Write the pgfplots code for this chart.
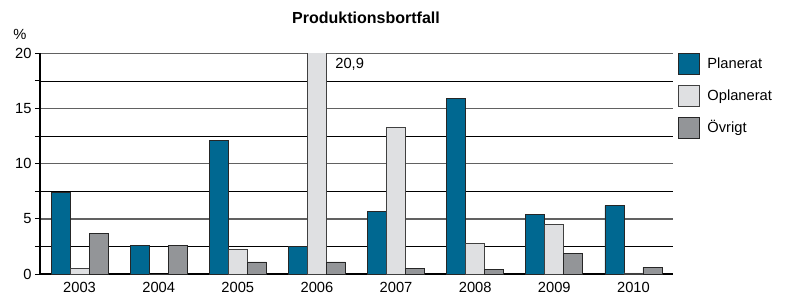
\documentclass[border=0pt]{standalone}
\usepackage{pgfplots}
\pgfplotsset{compat=1.18}
\usepackage{fontspec}
\setmainfont{Liberation Sans}
\definecolor{plan}{RGB}{0,104,145}
\definecolor{oplan}{RGB}{223,224,226}
\definecolor{ovr}{RGB}{147,149,152}
\pgfplotsset{sqleg/.style={legend image code/.code={\draw[##1, line width=0.7bp] (0bp,-10.5bp) rectangle (21bp,10.5bp);}}}
\begin{document}
\begin{tikzpicture}[font=\fontsize{14.7bp}{17bp}\selectfont]
\path[use as bounding box] (0,0) rectangle (790bp,-297bp);
\begin{axis}[
  scale only axis, width=633bp, height=220.7bp,
  at={(40bp,-274bp)}, anchor=south west,
  xmin=-0.5, xmax=7.5, ymin=0, ymax=20,
  ybar=0pt, bar width=19bp,
  axis x line*=bottom, axis y line*=left,
  axis line style={line width=1.6bp, black, -},
  xtick={0,...,7}, xticklabels={2003,2004,2005,2006,2007,2008,2009,2010},
  xtick style={draw=none},
  ytick={0,5,10,15,20}, minor ytick={2.5,7.5,12.5,17.5},
  tick align=outside, major tick length=5bp, minor tick length=5bp,
  ytick style={black, line width=0.8bp},
  minor tick style={black, line width=0.8bp},
  ymajorgrids, yminorgrids,
  major grid style={draw=black!62, line width=1.4bp},
  minor grid style={draw=black, line width=0.75bp},
  /pgf/number format/assume math mode=true,
  tick label style={font=\fontsize{14.7bp}{17bp}\selectfont},
  legend style={at={(1,1)}, anchor=north west, xshift=4.7bp, draw=none, fill=none,
    inner sep=0pt, outer sep=0pt, nodes={inner sep=0pt, anchor=west},
    row sep=10bp, /tikz/every odd column/.style={column sep=8bp},
    font=\fontsize{14.7bp}{17bp}\selectfont},
  legend cell align=left,
]
\addplot[fill=plan, draw=black!85, line width=0.7bp, sqleg] coordinates {(0,7.4) (1,2.6) (2,12.1) (3,2.5) (4,5.7) (5,15.9) (6,5.4) (7,6.2)};
\addplot[fill=oplan, draw=black!75, line width=0.7bp, sqleg] coordinates {(0,0.5) (1,0) (2,2.2) (3,20.9) (4,13.3) (5,2.8) (6,4.5) (7,0.1)};
\addplot[fill=ovr, draw=black!85, line width=0.7bp, sqleg] coordinates {(0,3.7) (1,2.6) (2,1.1) (3,1.1) (4,0.5) (5,0.4) (6,1.9) (7,0.6)};
\legend{Planerat, Oplanerat, Övrigt}
\node[anchor=west, inner sep=0pt] at (axis cs:3.23,19.03) {20,9};
\end{axis}
\node[font=\fontsize{16bp}{19bp}\selectfont\bfseries] at (366bp,-18bp) {Produktionsbortfall};
\node at (20bp,-34bp) {\%};
\end{tikzpicture}
\end{document}
